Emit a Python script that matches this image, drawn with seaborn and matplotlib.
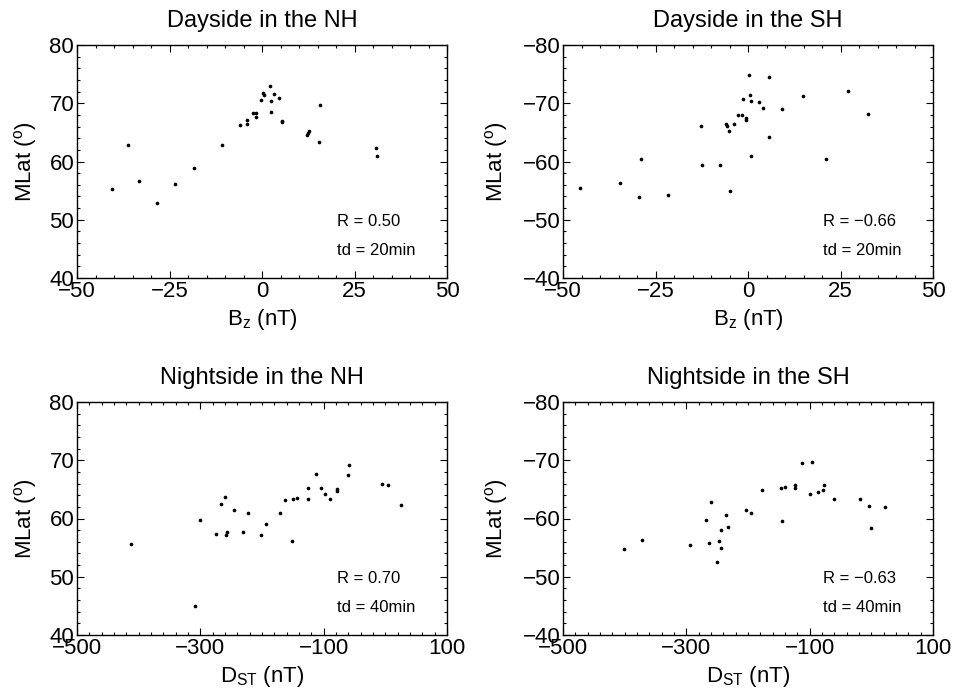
import numpy as np
import pandas as pd
import matplotlib
matplotlib.use("Agg")
import matplotlib.pyplot as plt
import seaborn as sns
from matplotlib.ticker import MultipleLocator

# ---- data ----
# Dayside NH: Bz (nT) vs MLat
day_nh_bz = [-40.5, -36.2, -33.3, -28.5, -23.4, -18.4, -10.8, -6.0, -4.1, -4.1,
             -2.5, -1.7, -1.7, -0.3, 0.2, 0.6, 2.2, 2.5, 2.3, 3.2, 4.5, 5.5, 5.5,
             12.1, 12.5, 12.7, 15.3, 15.7, 30.9, 31.0]
day_nh_lat = [55.3, 62.8, 56.7, 52.8, 56.1, 58.9, 62.9, 66.2, 67.2, 66.5,
              68.3, 68.3, 67.6, 70.6, 71.7, 71.5, 72.9, 70.4, 68.5, 71.6, 70.9, 67.0, 66.8,
              64.5, 64.9, 65.2, 63.4, 69.7, 62.3, 61.0]

# Dayside SH
day_sh_bz = [-45.3, -34.5, -29.5, -28.8, -21.6, -12.7, -12.4, -7.6, -5.9, -5.8,
             -5.1, -5.0, -3.7, -2.7, -1.6, -1.4, -0.6, -0.5, 0.3, 0.5, 0.8, 0.7,
             2.9, 4.1, 5.8, 5.7, 9.3, 14.9, 21.2, 27.1, 32.3]
day_sh_lat = [-55.4, -56.3, -53.9, -60.5, -54.3, -66.1, -59.4, -59.4, -66.5, -66.1,
              -65.3, -55.0, -66.5, -68.0, -67.9, -70.7, -67.5, -67.1, -74.8, -71.4, -70.4, -61.0,
              -70.3, -69.1, -74.5, -64.2, -69.0, -71.3, -60.5, -72.1, -68.1]

# Nightside NH: Dst (nT) vs MLat
night_nh_dst = [-412, -308, -301, -274, -267, -260, -259, -257, -245, -231,
                -223, -202, -194, -171, -163, -152, -149, -144, -125, -125,
                -113, -105, -98, -89, -79, -78, -61, -59, -6, 4, 26]
night_nh_lat = [55.6, 45.0, 59.8, 57.4, 62.5, 63.7, 57.1, 57.7, 61.5, 57.7,
                61.0, 57.2, 59.0, 61.0, 63.1, 56.2, 63.3, 63.6, 65.2, 63.3,
                67.7, 65.2, 64.2, 63.3, 64.8, 65.1, 67.5, 69.2, 66.0, 65.8, 62.4]

# Nightside SH
night_sh_dst = [-401, -372, -294, -268, -263, -260, -250, -247, -244, -243,
                -236, -233, -203, -195, -178, -147, -145, -140, -124, -124,
                -112, -97, -100, -86, -79, -76, -61, -19, -3, -1, 22]
night_sh_lat = [-54.8, -56.3, -55.4, -59.8, -55.8, -62.8, -52.6, -56.2, -55.0, -58.0,
                -60.6, -58.5, -61.5, -61.0, -64.9, -65.2, -59.5, -65.4, -65.8, -65.2,
                -69.5, -69.7, -64.2, -64.6, -64.9, -65.8, -63.4, -63.3, -62.2, -58.3, -62.0]

titles = ["Dayside in the NH", "Dayside in the SH", "Nightside in the NH", "Nightside in the SH"]
r_labels = ["R = 0.50", "R = \u22120.66", "R = 0.70", "R = \u22120.63"]
td_labels = ["td = 20min", "td = 20min", "td = 40min", "td = 40min"]

sns.set_style("ticks")
plt.rcParams["font.family"] = ["Liberation Sans", "DejaVu Sans"]
plt.rcParams["mathtext.fontset"] = "custom"
plt.rcParams["mathtext.rm"] = "Liberation Sans"
plt.rcParams["mathtext.default"] = "regular"
plt.rcParams["axes.unicode_minus"] = True
for key in ["text.color", "axes.labelcolor", "xtick.color", "ytick.color", "axes.edgecolor"]:
    plt.rcParams[key] = "black"

fig = plt.figure(figsize=(9.55, 6.98), dpi=100)
W, H = 955, 698
boxes = [(77, 45), (563, 45), (77, 402), (563, 402)]
aw, ah = 370, 233

datasets = [
    (day_nh_bz, day_nh_lat),
    (day_sh_bz, day_sh_lat),
    (night_nh_dst, night_nh_lat),
    (night_sh_dst, night_sh_lat),
]

for i, ((xs, ys), (px, py)) in enumerate(zip(datasets, boxes)):
    ax = fig.add_axes([px / W, 1 - (py + ah) / H, aw / W, ah / H])
    df = pd.DataFrame({"x": xs, "y": ys})
    sns.scatterplot(data=df, x="x", y="y", ax=ax, color="black", s=7,
                    linewidth=0, marker="o")

    if i < 2:
        ax.set_xlim(-50, 50)
        ax.set_xticks([-50, -25, 0, 25, 50])
        ax.xaxis.set_minor_locator(MultipleLocator(5))
        ax.set_xlabel(r"B$_z$ (nT)", fontsize=16, labelpad=4)
    else:
        ax.set_xlim(-500, 100)
        ax.set_xticks([-500, -300, -100, 100])
        ax.xaxis.set_minor_locator(MultipleLocator(20))
        ax.set_xlabel(r"D$_{ST}$ (nT)", fontsize=16, labelpad=4)

    if i % 2 == 0:
        ax.set_ylim(40, 80)
        ax.set_yticks([40, 50, 60, 70, 80])
        lx = -0.103
    else:
        ax.set_ylim(-40, -80)
        ax.set_yticks([-40, -50, -60, -70, -80])
        lx = -0.143
    ax.yaxis.set_minor_locator(MultipleLocator(2))

    ax.set_ylabel(r"MLat ($^{o}$)", fontsize=16)
    ax.yaxis.set_label_coords(lx, 0.5)
    ax.set_title(titles[i], fontsize=17, pad=13)

    ax.tick_params(which="both", direction="in", top=True, right=True,
                   labelsize=16, width=0.8, pad=2)
    ax.tick_params(which="major", length=5)
    ax.tick_params(which="minor", length=2.5)
    for sp in ax.spines.values():
        sp.set_linewidth(1.0)
        sp.set_color("black")

    ax.text(0.703, 0.222, r_labels[i], transform=ax.transAxes, fontsize=12)
    ax.text(0.703, 0.099, td_labels[i], transform=ax.transAxes, fontsize=12)

fig.savefig("out.png", dpi=100)
